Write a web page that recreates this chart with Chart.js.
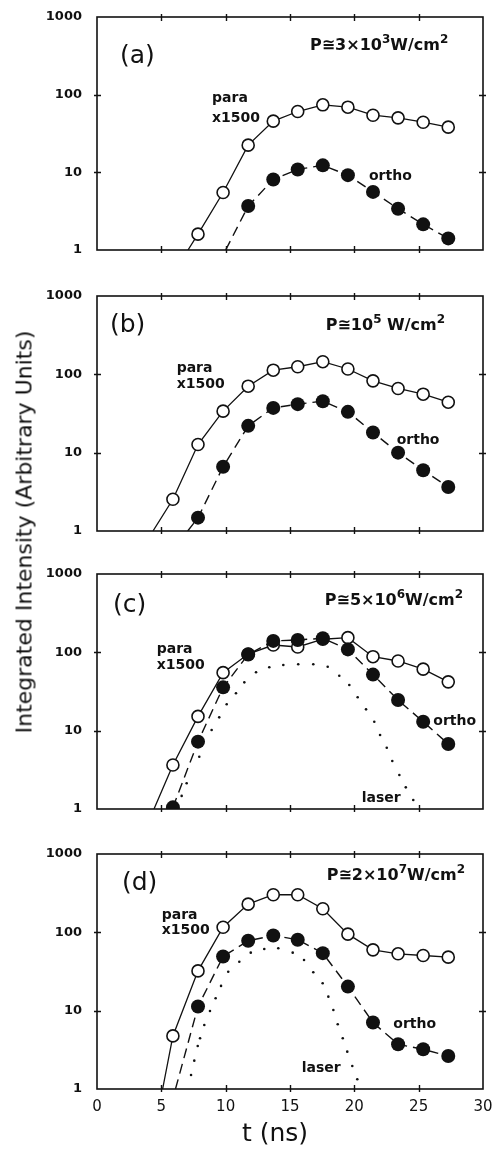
<!DOCTYPE html>
<html>
<head>
<meta charset="utf-8">
<script src="https://cdn.jsdelivr.net/npm/chart.js@4.4.1/dist/chart.umd.min.js"></script>
<style>
  body { margin: 0; background: #fff; }
  #wrap { position: relative; width: 494px; height: 1151px; overflow: hidden; background: #fff; }
  canvas { position: absolute; left: 0; }
  #ylab {
    position: absolute; left: 24px; top: 532px;
    transform: translate(-50%, -50%) rotate(-90deg);
    font: 22px "DejaVu Sans"; white-space: nowrap; color: #111;
  }
</style>
</head>
<body>
<div id="wrap">
  <canvas id="pa" width="494" height="253" style="top:7px"></canvas>
  <canvas id="pb" width="494" height="255" style="top:286px"></canvas>
  <canvas id="pc" width="494" height="255" style="top:564px"></canvas>
  <canvas id="pd" width="494" height="307" style="top:844px"></canvas>
  <div id="ylab">Integrated Intensity (Arbitrary Units)</div>
</div>
<script>
// time of each measurement (ns)
const times = [5.9, 7.85, 9.8, 11.75, 13.7, 15.6, 17.55, 19.5, 21.45, 23.4, 25.35, 27.3];

// para (x1500) and ortho intensities, one pair per panel
const paraA  = [null, 1.6, 5.5, 22.4, 45.6, 60.7, 74, 69, 54.4, 50.3, 44.2, 38.2];
const orthoA = [null, null, null, 3.68, 8.1, 10.9, 12.3, 9.2, 5.6, 3.4, 2.14, 1.41];
const paraB  = [2.54, 12.7, 33.9, 70.6, 113, 125, 145, 117, 82.6, 66, 55.8, 44.1];
const orthoB = [null, 1.48, 6.6, 22, 37.3, 41.6, 45.4, 33.2, 18.1, 10, 5.96, 3.65];
const paraC  = [3.65, 15.2, 55, 95, 124, 117, 147, 154, 88, 77.5, 61, 42];
const orthoC = [1.05, 7.24, 35.7, 94, 140, 144, 151, 109, 52, 24.6, 13, 6.76];
const paraD  = [4.76, 32.2, 116, 229, 302, 302, 200, 94.8, 59.8, 53.2, 50.6, 48.2];
const orthoD = [null, 11.3, 49.2, 78, 91.2, 80.3, 54.2, 20.3, 7.05, 3.72, 3.21, 2.64];

// where the guide curves leave the bottom axis (t in ns, at intensity 1)
const paraStart  = [7.07, 4.35, 4.43, 5.1];
const orthoStart = [10.0, 7.05, null, 6.1];

// laser pulse profile (dotted), panels c and d
const laserTimesC = [6.58, 6.97, 7.95, 8.91, 9.5, 10.08, 10.8, 11.45, 12.36, 13.39, 14.48, 15.64, 16.81, 17.93, 18.83, 19.61, 20.26, 20.91, 21.55, 22.0, 22.52, 22.95, 23.5, 24.0, 24.58];
const laserC      = [1.47, 2.13, 4.65, 10.2, 14.8, 21.7, 30, 41.4, 55.6, 64.4, 68.9, 70.3, 70.3, 65.6, 50.3, 38.3, 26.7, 18.7, 13, 8.8, 6.06, 4.1, 2.72, 1.89, 1.3];
const laserTimesD = [7.31, 7.56, 7.83, 8.01, 8.34, 8.78, 9.22, 9.64, 10.2, 11.06, 11.95, 13.0, 14.09, 15.21, 16.09, 16.81, 17.54, 17.98, 18.37, 18.71, 19.1, 19.45, 19.84, 20.23];
const laserD      = [1.51, 2.30, 3.54, 4.44, 6.56, 9.9, 14.4, 20.7, 31.4, 42.2, 55, 61.3, 62.5, 55, 44.4, 30.9, 22.4, 15.1, 10.2, 6.7, 4.44, 3.0, 1.97, 1.33];

// axis ticks
const xTicks = [0, 5, 10, 15, 20, 25, 30];
const yTicks = [1, 10, 100, 1000];

// panel texts
const panelLetters = ['(a)', '(b)', '(c)', '(d)'];
const powerLabels = [
  [['P\u22453\u00d710', 0], ['3', 1], ['W/cm', 0], ['2', 1]],
  [['P\u224510', 0], ['5', 1], [' W/cm', 0], ['2', 1]],
  [['P\u22455\u00d710', 0], ['6', 1], ['W/cm', 0], ['2', 1]],
  [['P\u22452\u00d710', 0], ['7', 1], ['W/cm', 0], ['2', 1]]
];

const INK = '#111';
const FONT = '"DejaVu Sans", sans-serif';

function toPoints(xs, ys) {
  const pts = [];
  xs.forEach((t, i) => { if (ys[i] != null) pts.push({ x: t, y: ys[i] }); });
  return pts;
}

function withStart(start, pts) {
  return start == null ? pts : [{ x: start, y: 1, tail: true }].concat(pts);
}

function drawRich(ctx, segs, xRight, yBase) {
  const big = 'bold 16px ' + FONT, small = 'bold 12px ' + FONT;
  let w = 0;
  segs.forEach(([s, sup]) => { ctx.font = sup ? small : big; w += ctx.measureText(s).width; });
  let x = xRight - w;
  segs.forEach(([s, sup]) => {
    ctx.font = sup ? small : big;
    ctx.fillText(s, x, sup ? yBase - 7 : yBase);
    x += ctx.measureText(s).width;
  });
}

// drop the extra room Chart.js reserves for overhanging tick labels
function noPad(s) {
  s.paddingTop = 0; s.paddingBottom = 0; s.paddingLeft = 0; s.paddingRight = 0;
}

const decor = {
  id: 'decor',
  afterDraw(chart, args, o) {
    const { ctx, chartArea: a, scales: { x, y } } = chart;
    ctx.save();
    ctx.strokeStyle = INK;
    ctx.lineWidth = 1.6;
    ctx.strokeRect(a.left, a.top, a.right - a.left, a.bottom - a.top);
    ctx.lineWidth = 1.4;
    ctx.beginPath();
    xTicks.slice(1, -1).forEach(v => {
      const p = Math.round(x.getPixelForValue(v)) + 0.5;
      ctx.moveTo(p, a.top - 3); ctx.lineTo(p, a.top + 4);
      ctx.moveTo(p, a.bottom - 4); ctx.lineTo(p, a.bottom + 3);
    });
    yTicks.slice(1, -1).forEach(v => {
      const p = Math.round(y.getPixelForValue(v)) + 0.5;
      ctx.moveTo(a.left - 3, p); ctx.lineTo(a.left + 4, p);
      ctx.moveTo(a.right - 4, p); ctx.lineTo(a.right + 3, p);
    });
    ctx.stroke();

    ctx.fillStyle = INK;
    ctx.textBaseline = 'alphabetic';
    ctx.textAlign = 'left';
    const px = (t) => x.getPixelForValue(t), py = (v) => y.getPixelForValue(v);
    ctx.font = '25px ' + FONT;
    ctx.fillText(o.letter, px(o.letterAt[0]), py(o.letterAt[1]));
    drawRich(ctx, o.power, px(o.powerAt[0]), py(o.powerAt[1]));
    ctx.font = 'bold 14px ' + FONT;
    ctx.fillText('para', px(o.paraAt[0]), py(o.paraAt[1]));
    ctx.fillText('x1500', px(o.paraAt[0]), py(o.paraAt[2]));
    ctx.fillText('ortho', px(o.orthoAt[0]), py(o.orthoAt[1]));
    if (o.laserAt) ctx.fillText('laser', px(o.laserAt[0]), py(o.laserAt[1]));

    if (o.xTitle) {
      ctx.font = '25px ' + FONT;
      ctx.textAlign = 'center';
      ctx.fillText('t (ns)', (a.left + a.right) / 2 - 15, a.bottom + 52);
    }
    ctx.restore();
  }
};

function makePanel(id, k, para, ortho, laserT, laser, labels, bottom) {
  const datasets = [
    {
      data: withStart(orthoStart[k], toPoints(times, ortho)),
      showLine: true, borderColor: INK, borderWidth: 1.4, borderDash: [10, 6],
      pointRadius: c => (c.raw && c.raw.tail ? 0 : 7),
      pointBackgroundColor: INK, pointBorderColor: INK, pointBorderWidth: 0,
      order: 1
    },
    {
      data: withStart(paraStart[k], toPoints(times, para)),
      showLine: true, borderColor: INK, borderWidth: 1.3,
      pointRadius: c => (c.raw && c.raw.tail ? 0 : 6),
      pointBackgroundColor: '#fff', pointBorderColor: INK, pointBorderWidth: 1.6,
      order: 2
    }
  ];
  if (laser) {
    datasets.push({
      data: toPoints(laserT, laser),
      showLine: false, pointRadius: 1.3, pointBackgroundColor: INK,
      pointBorderWidth: 0, order: 3
    });
  }
  new Chart(document.getElementById(id), {
    type: 'scatter',
    data: { datasets },
    options: {
      responsive: false,
      animation: false,
      layout: { padding: { top: 10, right: 11, left: 0, bottom: 0 } },
      plugins: { legend: { display: false }, tooltip: { enabled: false }, decor: labels },
      scales: {
        x: {
          type: 'linear', min: 0, max: 30,
          grid: { display: false, drawTicks: false },
          border: { display: false },
          afterBuildTicks: s => { s.ticks = xTicks.map(v => ({ value: v })); },
          ticks: {
            display: !!labels.xTitle, padding: 9, color: INK,
            font: { family: FONT, size: 15 }
          },
          afterFit: s => { s.height = bottom; noPad(s); }
        },
        y: {
          type: 'logarithmic', min: 1, max: 1000,
          grid: { display: false, drawTicks: false },
          border: { display: false },
          afterBuildTicks: s => { s.ticks = yTicks.map(v => ({ value: v })); },
          ticks: {
            padding: 15, color: INK,
            font: { family: FONT, size: 13, weight: 'bold' },
            callback: v => String(v)
          },
          afterFit: s => { s.width = 97; noPad(s); }
        }
      }
    },
    plugins: [decor]
  });
}

makePanel('pa', 0, paraA, orthoA, null, null, {
  letter: panelLetters[0], letterAt: [1.79, 256],
  power: powerLabels[0], powerAt: [27.3, 376],
  paraAt: [8.94, 81, 44.9], orthoAt: [21.14, 7.96]
}, 10);
makePanel('pb', 1, paraB, orthoB, null, null, {
  letter: panelLetters[1], letterAt: [1.01, 347],
  power: powerLabels[1], powerAt: [27.05, 368],
  paraAt: [6.19, 108, 66.4], orthoAt: [23.29, 12.9]
}, 10);
makePanel('pc', 2, paraC, orthoC, laserTimesC, laserC, {
  letter: panelLetters[2], letterAt: [1.24, 327],
  power: powerLabels[2], powerAt: [28.45, 402],
  paraAt: [4.64, 97.2, 60.7], orthoAt: [26.14, 11.8], laserAt: [20.57, 1.24]
}, 10);
makePanel('pd', 3, paraD, orthoD, laserTimesD, laserD, {
  letter: panelLetters[3], letterAt: [1.94, 347],
  power: powerLabels[3], powerAt: [28.6, 466],
  paraAt: [5.03, 147, 94.4], orthoAt: [23.03, 5.96], laserAt: [15.91, 1.63],
  xTitle: true
}, 62);
</script>
</body>
</html>
